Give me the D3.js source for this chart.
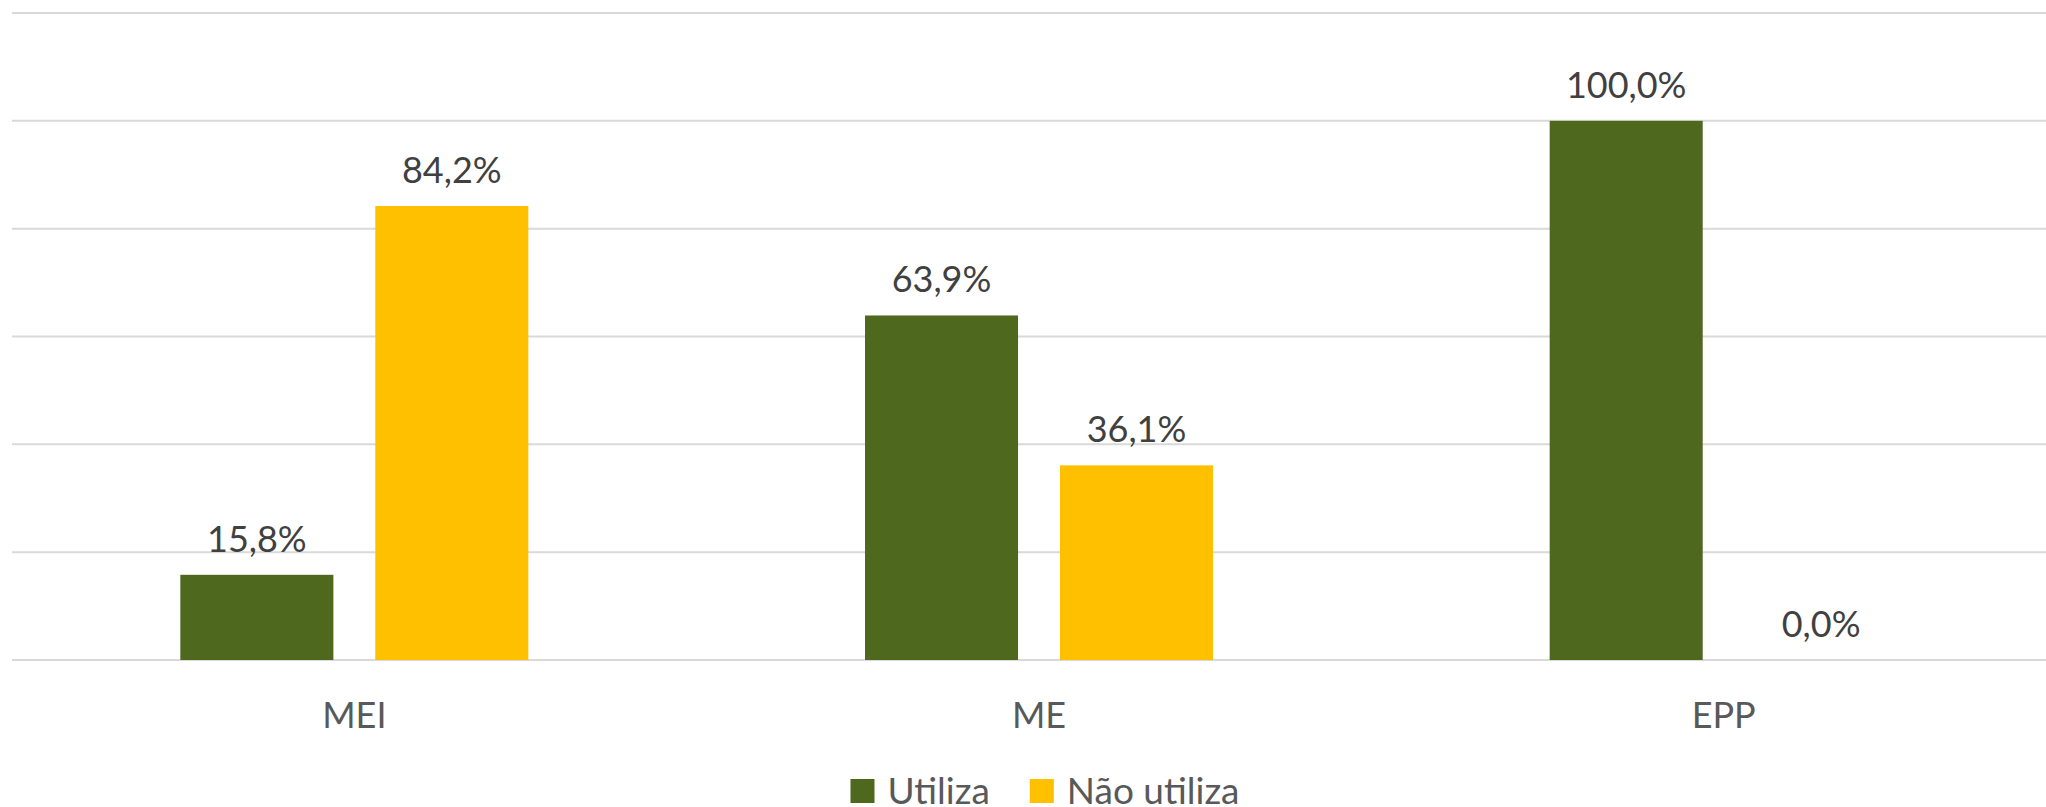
<!DOCTYPE html>
<html>
<head>
<meta charset="utf-8">
<script src="https://cdn.jsdelivr.net/npm/d3@7"></script>
<style>
  body { margin: 0; background: #fff; }
  svg { display: block; font-family: Lato, "Noto Sans", sans-serif; }
</style>
</head>
<body>
<div id="chart"></div>
<script>
const categories = ["MEI", "ME", "EPP"];
const seriesNames = ["Utiliza", "Não utiliza"];
const utiliza = [0.158, 0.639, 1.0];
const naoUtiliza = [0.842, 0.361, 0.0];
const yTicks = [0, 0.2, 0.4, 0.6, 0.8, 1.0, 1.2];
const colors = ["#4E691E", "#FFC000"];

const width = 2046, height = 807;

const ptBR = d3.formatLocale({ decimal: ",", thousands: ".", grouping: [3], currency: ["R$", ""] });
const fmt = ptBR.format(".1%");

const rows = categories.map((c, i) => ({
    cat: c,
    values: [
        { key: seriesNames[0], value: utiliza[i] },
        { key: seriesNames[1], value: naoUtiliza[i] }
    ]
}));

const svg = d3.select("#chart").append("svg")
    .attr("width", width)
    .attr("height", height);

// plot area runs past the right edge like the source image
const x0 = d3.scaleBand().domain(categories).range([12, 2066]);
const groupWidth = 348;
const x1 = d3.scaleBand().domain(seriesNames).range([0, groupWidth]).paddingInner(0.215);
const y = d3.scaleLinear().domain([0, 1.2]).range([660, 13]);
const color = d3.scaleOrdinal().domain(seriesNames).range(colors);

// gridlines
svg.append("g")
    .selectAll("line")
    .data(yTicks)
    .join("line")
    .attr("x1", 12)
    .attr("x2", width)
    .attr("y1", d => y(d))
    .attr("y2", d => y(d))
    .attr("stroke", "#d9d9d9")
    .attr("stroke-width", 2);

const groups = svg.append("g")
    .selectAll("g")
    .data(rows)
    .join("g")
    .attr("transform", d => `translate(${x0(d.cat) + (x0.bandwidth() - groupWidth) / 2},0)`);

groups.selectAll("rect")
    .data(d => d.values)
    .join("rect")
    .attr("x", d => x1(d.key))
    .attr("y", d => y(d.value))
    .attr("width", x1.bandwidth())
    .attr("height", d => y(0) - y(d.value))
    .attr("fill", d => color(d.key));

groups.selectAll("text")
    .data(d => d.values)
    .join("text")
    .attr("x", d => x1(d.key) + x1.bandwidth() / 2)
    .attr("y", d => y(d.value) - 23)
    .attr("text-anchor", "middle")
    .attr("font-size", 36)
    .attr("fill", "#404040")
    .text(d => fmt(d.value));

// category axis
const xAxis = svg.append("g")
    .attr("transform", `translate(0,${y(0)})`)
    .call(d3.axisBottom(x0).tickSize(0).tickPadding(0));
xAxis.select(".domain").remove();
xAxis.selectAll("text")
    .attr("dy", null)
    .attr("y", 68)
    .attr("font-size", 36)
    .attr("font-family", "Lato, 'Noto Sans', sans-serif")
    .attr("fill", "#595959");

// legend
const legend = svg.append("g");
const items = legend.selectAll("g")
    .data(seriesNames)
    .join("g");
items.append("rect")
    .attr("y", 779)
    .attr("width", 24)
    .attr("height", 24)
    .attr("fill", d => color(d));
items.append("text")
    .attr("x", 37)
    .attr("y", 804)
    .attr("font-size", 37)
    .attr("fill", "#595959")
    .text(d => d);

let offset = 0;
items.each(function () {
    const g = d3.select(this);
    g.attr("transform", `translate(${offset},0)`);
    offset += 37 + g.select("text").node().getComputedTextLength() + 40;
});
const legendWidth = offset - 40;
const legendCenter = (x0.range()[0] + x0.range()[1]) / 2 + 6;
legend.attr("transform", `translate(${legendCenter - legendWidth / 2},0)`);
</script>
</body>
</html>
